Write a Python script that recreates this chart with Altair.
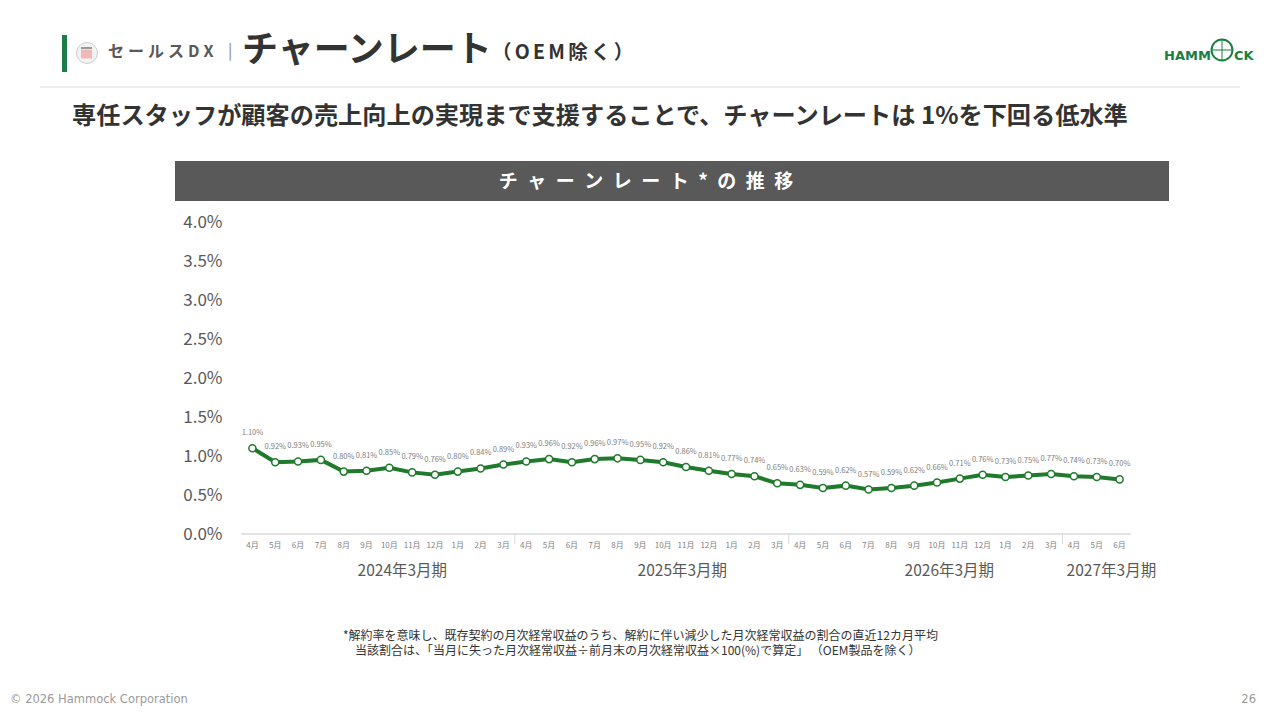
import altair as alt
import pandas as pd

# ---------------- data ----------------
months = ["4月", "5月", "6月", "7月", "8月", "9月", "10月", "11月", "12月", "1月", "2月", "3月",
          "4月", "5月", "6月", "7月", "8月", "9月", "10月", "11月", "12月", "1月", "2月", "3月",
          "4月", "5月", "6月", "7月", "8月", "9月", "10月", "11月", "12月", "1月", "2月", "3月",
          "4月", "5月", "6月"]
churn = [1.10, 0.92, 0.93, 0.95, 0.80, 0.81, 0.85, 0.79, 0.76, 0.80, 0.84, 0.89,
         0.93, 0.96, 0.92, 0.96, 0.97, 0.95, 0.92, 0.86, 0.81, 0.77, 0.74, 0.65,
         0.63, 0.59, 0.62, 0.57, 0.59, 0.62, 0.66, 0.71, 0.76, 0.73, 0.75, 0.77,
         0.74, 0.73, 0.70]
fiscal_labels = ["2024年3月期", "2025年3月期", "2026年3月期", "2027年3月期"]
y_ticks = [0.0, 0.5, 1.0, 1.5, 2.0, 2.5, 3.0, 3.5, 4.0]

# ---------------- layout (positions in category-index units) ----------------
fiscal_label_pos = [6.57, 18.84, 30.54, 37.64]
fiscal_sep_pos = [11.5, 23.5, 35.5]

FONT = "Noto Sans CJK JP"
GREEN = "#1f7a2c"
W, H = 890, 312

df = pd.DataFrame({
    "idx": list(range(len(churn))),
    "month": months,
    "value": churn,
    "label": [f"{v:.2f}%" for v in churn],
})
fy = pd.DataFrame({"pos": fiscal_label_pos, "label": fiscal_labels})
sep = pd.DataFrame({"pos": fiscal_sep_pos})

xscale = alt.Scale(domain=[-0.5, len(churn) - 0.5])
yscale = alt.Scale(domain=[0, 4.0])
X = alt.X("idx:Q", scale=xscale, axis=None)
yaxis = alt.Axis(values=y_ticks, labelExpr="format(datum.value, '.1f') + '%'",
                 domain=False, ticks=False, grid=False, labelFontSize=17,
                 labelColor="#595959", labelPadding=19, labelFont=FONT, title=None)
Y = alt.Y("value:Q", scale=yscale, axis=yaxis, title=None)

base = alt.Chart(df)

line = base.mark_line(color=GREEN, strokeWidth=4).encode(x=X, y=Y)
points = base.mark_point(shape="circle", filled=True, fill="white", stroke=GREEN,
                         strokeWidth=1.5, size=50, opacity=1).encode(x=X, y=Y)
labels = base.mark_text(font=FONT, fontSize=7.5, color="#808080", dy=-15).encode(
    x=X, y=Y, text="label:N")
month_text = base.mark_text(font=FONT, fontSize=8, color="#7f7f7f", baseline="middle").encode(
    x=X, y=alt.value(H + 12), text="month:N")

one = pd.DataFrame({"a": [0]})


def hrule(x, x2, y, color, width):
    return alt.Chart(one).mark_rule(color=color, strokeWidth=width, strokeCap="butt").encode(
        x=alt.value(x), x2=alt.value(x2), y=alt.value(y))


def vrule(x, y, y2, color, width):
    return alt.Chart(one).mark_rule(color=color, strokeWidth=width, strokeCap="butt").encode(
        x=alt.value(x), y=alt.value(y), y2=alt.value(y2))


domain_line = hrule(0, W, H, "#d9d9d9", 1.5)
sep_rules = alt.Chart(sep).mark_rule(color="#d9d9d9", strokeWidth=1).encode(
    x=alt.X("pos:Q", scale=xscale, axis=None), y=alt.value(H), y2=alt.value(H + 10))
fy_text = alt.Chart(fy).mark_text(font=FONT, fontSize=15.5, color="#595959", baseline="middle").encode(
    x=alt.X("pos:Q", scale=xscale, axis=None), y=alt.value(H + 37), text="label:N")


# ---------------- slide decorations ----------------
def txt(s, x, y, size, color, weight="normal", align="left", font=FONT):
    return alt.Chart(pd.DataFrame({"t": [s]})).mark_text(
        font=font, fontSize=size, color=color, fontWeight=weight, align=align, baseline="middle"
    ).encode(text="t:N", x=alt.value(x), y=alt.value(y))


band = hrule(-66, 928, -41, "#595959", 40)
band_text = txt("\u2002".join(list("チャーンレート*の推移")), 405, -40, 19, "white", "bold", "center")

green_bar = vrule(-176.5, -187, -150, "#1e7b4a", 5)
icon = alt.Chart(one).mark_point(shape="circle", filled=True, fill="#f2f2f2", stroke="#cfcfcf",
                                  strokeWidth=1, size=440, opacity=1).encode(
    x=alt.value(-154), y=alt.value(-169))
icon_doc = hrule(-160, -149, -168, "#f2b8b8", 9)
icon_doc_top = hrule(-160, -149, -174, "#9a9a9a", 2)
head_small = txt("\u2005".join(list("セールスDX")), -133, -170, 16, "#595959", "bold")
head_bar = txt("|", -13, -171, 16, "#8a8a8a")
head_big = txt("チャーンレート", 1, -171, 36, "#333333", "bold")
head_paren = txt("（\u2006O\u2006E\u2006M\u2006除\u2006く\u2006）", 251, -169, 19.5, "#333333", "bold")

logo1 = txt("HAMM", 923, -166, 13, "#1a8040", "bold", font="DejaVu Sans")
logo_globe = alt.Chart(one).mark_point(shape="circle", filled=False, stroke="#1a8040",
                                        strokeWidth=2, size=440, opacity=1).encode(
    x=alt.value(981), y=alt.value(-172))
globe_h = hrule(971, 991, -172, "#1a8040", 1)
globe_v = vrule(981, -182, -162, "#1a8040", 1)
logo2 = txt("CK", 993, -166, 13, "#1a8040", "bold", font="DejaVu Sans")

hline = hrule(-201, 999, -135, "#d9d9d9", 1)

subtitle = txt("専任スタッフが顧客の売上向上の実現まで支援することで、チャーンレートは 1%を下回る低水準",
               -169, -105, 24.2, "#333333", "bold")

note1 = txt("*解約率を意味し、既存契約の月次経常収益のうち、解約に伴い減少した月次経常収益の割合の直近12カ月平均",
            102, 414, 12, "#333333")
note2 = txt("当該割合は、「当月に失った月次経常収益÷前月末の月次経常収益×100(%)で算定」 （OEM製品を除く）",
            114, 429, 12, "#333333")

footer = txt("© 2026 Hammock Corporation", -231, 478, 11.5, "#9a9a9a", font="DejaVu Sans")
page_no = txt("26", 1015, 478, 11.5, "#9a9a9a", align="right", font="DejaVu Sans")

chart = alt.layer(
    line, points, labels, month_text, domain_line, sep_rules, fy_text,
    band, band_text, green_bar, icon, icon_doc, icon_doc_top, head_small, head_bar, head_big,
    head_paren, logo1, logo_globe, globe_h, globe_v, logo2, hline, subtitle, note1, note2,
    footer, page_no,
).properties(
    width=W, height=H,
    padding={"left": 233, "top": 214, "right": 140, "bottom": 176},
    autosize=alt.AutoSizeParams(type="none"),
).configure_view(stroke=None)

chart.save("out.html", embed_options={"renderer": "svg", "actions": False})
